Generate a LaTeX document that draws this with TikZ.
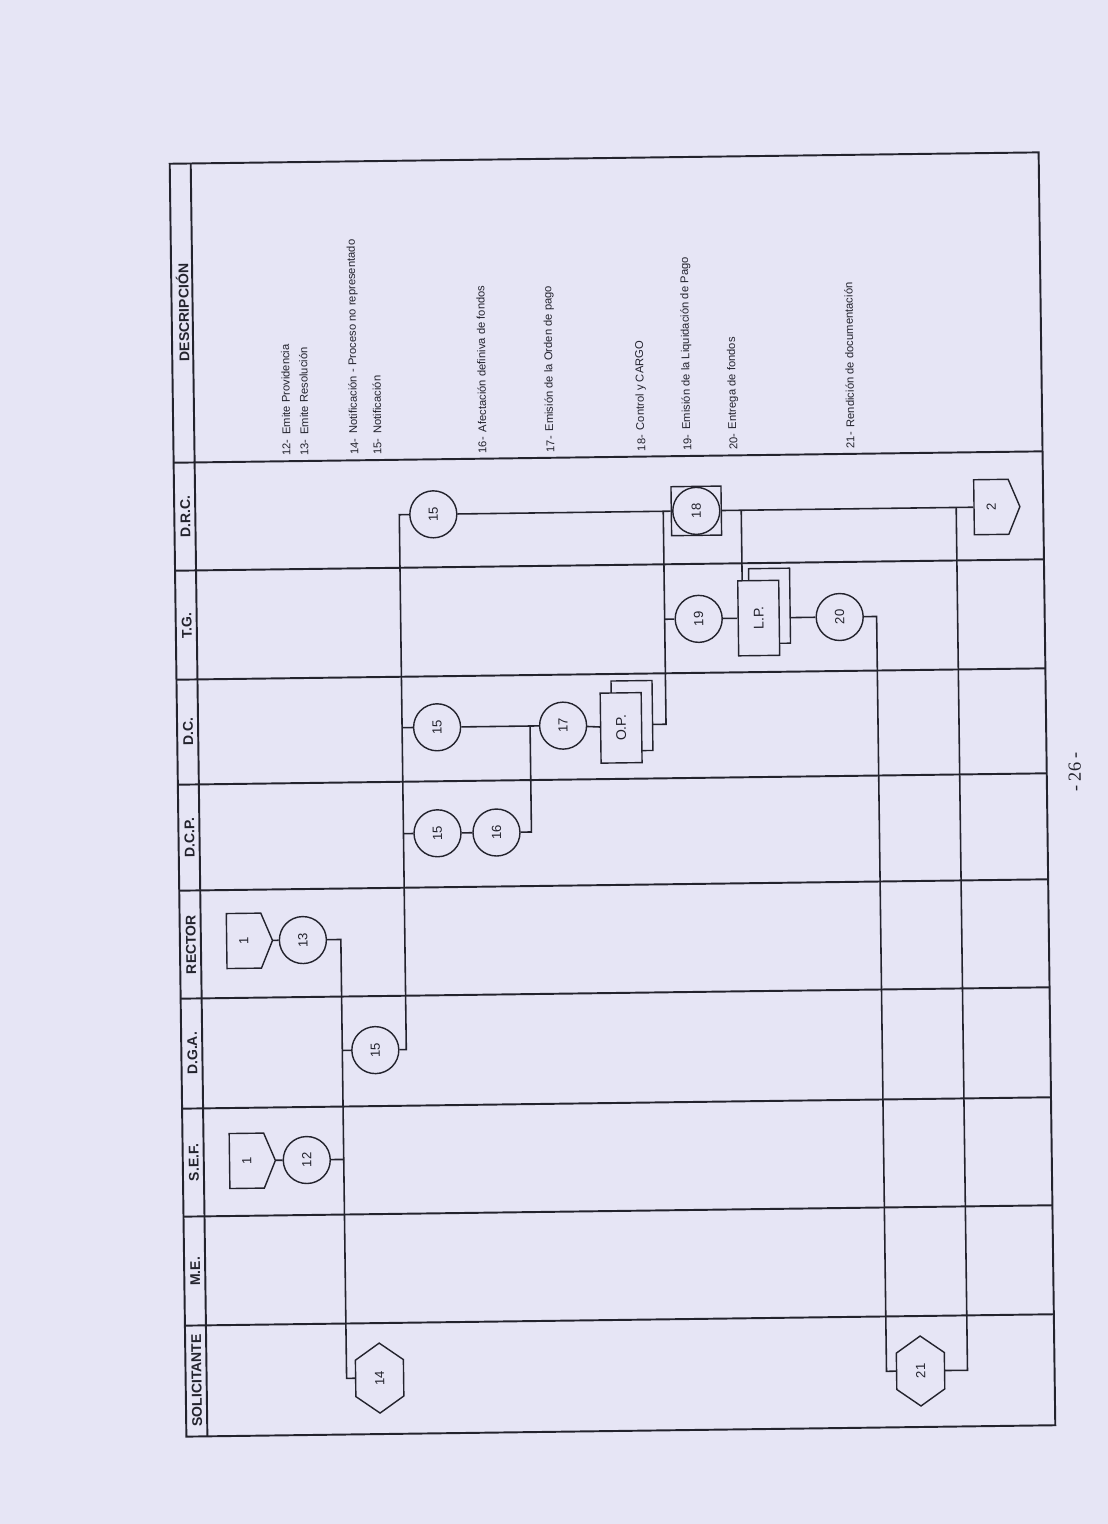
\documentclass[tikz,border=0pt]{standalone}
\usepackage{fontspec}
\setmainfont{Liberation Sans}
\newfontfamily\pagefont{Liberation Serif}
\usetikzlibrary{shapes.symbols}
\definecolor{paper}{RGB}{230,229,245}
\definecolor{ink}{RGB}{35,35,45}

\begin{document}
\begin{tikzpicture}[
        x=0.02cm, y=-0.02cm,
        color=ink,
        grid/.style={line width=1.1pt},
        flow/.style={line width=0.9pt},
        proc/.style={circle, draw, line width=0.8pt, minimum size=0.94cm, inner sep=0pt, rotate=90, font=\fontsize{7.5}{8}\selectfont},
        offpage/.style={signal, signal to=south, signal pointer angle=135, draw, line width=0.8pt, minimum width=1.1cm, minimum height=0.72cm, inner sep=0pt, rotate=90, font=\fontsize{7.5}{8}\selectfont},
        hexa/.style={signal, signal to=east and west, signal pointer angle=110, draw, line width=0.8pt, minimum width=1.4cm, minimum height=0.96cm, inner sep=0pt, rotate=90, font=\fontsize{7.5}{8}\selectfont},
        doc/.style={rectangle, draw, line width=0.8pt, fill=paper, minimum width=1.4cm, minimum height=0.82cm, inner sep=0pt, rotate=90, font=\fontsize{8}{9}\selectfont},
        ctrl/.style={rectangle, draw, line width=0.8pt, minimum width=1cm, minimum height=0.98cm, inner sep=0pt},
        lanehead/.style={rotate=90, inner sep=0pt, font=\bfseries\fontsize{8}{9}\selectfont},
        desc/.style={rotate=90, anchor=west, inner sep=0pt, font=\fontsize{6.4}{7}\selectfont}
    ]
        % Paper
        \fill[paper] (0,0) rectangle (1108,1524);

        % Page is scanned slightly tilted
        \begin{scope}[rotate around={0.75:(612,795)}, transform shape]

        % Frame and lanes
        \draw[grid] (178,158) rectangle (1047,1431);
        \draw[grid] (199,158) -- (199,1431);
        \foreach \y in {457,565,674,779,885,993,1103,1211,1320}
            \draw[grid] (178,\y) -- (1047,\y);

        % Lane titles
        \foreach \y/\t [count=\i] in {307/DESCRIPCIÓN, 511/D.R.C., 620/T.G., 726/D.C., 832/D.C.P., 939/RECTOR, 1048/D.G.A., 1157/S.E.F., 1266/M.E., 1375/SOLICITANTE}
            \node[lanehead] (head\i) at (189,\y) {\t};

        % Descriptions
        \foreach \x/\n/\t in {291/12/Emite Providencia, 309/13/Emite Resolución, 359/14/Notificación - Proceso no representado, 382/15/Notificación, 487/16/Afectación definiva de fondos, 555/17/Emisión de la Orden de pago, 646/18/Control y CARGO, 692/19/Emisión de la Liquidación de Pago, 738/20/Entrega de fondos, 855/21/Rendición de documentación} {
            \node[desc] (num\n) at (\x,452) {\n-};
            \node[desc] (txt\n) at (\x,431) {\t};
        }

        % S.E.F. and RECTOR
        \node[offpage] (sef1) at (242,1156) {1};
        \node[proc] (c12) at (302,1156) {12};
        \node[offpage] (rec1) at (242,936) {1};
        \node[proc] (c13) at (301,936) {13};

        % Solicitante
        \node[hexa] (h14) at (372,1375) {14};
        \node[hexa] (h21) at (913,1375) {21};

        % Notifications
        \node[proc] (c15a) at (372,1047) {15};
        \node[proc] (c15b) at (437,831) {15};
        \node[proc] (c15c) at (438,725) {15};
        \node[proc] (c15d) at (437,512) {15};
        \node[proc] (c16) at (496,831) {16};
        \node[proc] (c17) at (564,725) {17};

        % Documents
        \node[doc] (opb) at (633,716) {};
        \node[doc] (op) at (622,728) {O.P.};
        \node[doc, minimum width=1.5cm] (lpb) at (772,608) {};
        \node[doc, minimum width=1.5cm] (lp) at (761,620) {L.P.};

        % Control, payment, funds
        \node[ctrl] (sq18) at (700,512) {};
        \node[proc] (c18) at (700,512) {18};
        \node[proc] (c19) at (701,620) {19};
        \node[proc] (c20) at (842,620) {20};
        \node[offpage] (p2) at (995,512) {2};

        % Bends
        \coordinate (j1) at (339,936);
        \coordinate (j2) at (339,1375);
        \coordinate (j3) at (339,1156);
        \coordinate (j4) at (339,1047);
        \coordinate (k1) at (403,1047);
        \coordinate (k2) at (403,512);
        \coordinate (k3) at (403,831);
        \coordinate (k4) at (403,725);
        \coordinate (m1) at (531,831);
        \coordinate (m2) at (531,725);
        \coordinate (n2) at (667,725);
        \coordinate (n3) at (667,512);
        \coordinate (n4) at (667,620);
        \coordinate (q1) at (745,512);
        \coordinate (r1) at (879,620);
        \coordinate (r2) at (879,1375);
        \coordinate (s1) at (960,1375);
        \coordinate (s2) at (960,512);

        % Connectors
        \draw[flow] (sef1) -- (c12);
        \draw[flow] (rec1) -- (c13);
        \draw[flow] (c13) -- (j1) -- (j2) -- (h14);
        \draw[flow] (c12) -- (j3);
        \draw[flow] (c15a) -- (j4);
        \draw[flow] (c15a) -- (k1) -- (k2) -- (c15d);
        \draw[flow] (k3) -- (c15b);
        \draw[flow] (k4) -- (c15c);
        \draw[flow] (c15b) -- (c16);
        \draw[flow] (c16) -- (m1) -- (m2);
        \draw[flow] (c15c) -- (c17);
        \draw[flow] (c17) -- (op);
        \draw[flow] (opb.south |- n2) -- (n2) -- (n3);
        \draw[flow] (c15d) -- (sq18);
        \draw[flow] (n4) -- (c19);
        \draw[flow] (c19) -- (lp);
        \draw[flow] (sq18) -- (p2);
        \draw[flow] (q1) -- (q1 |- lp.east);
        \draw[flow] (lpb.south |- c20) -- (c20);
        \draw[flow] (c20) -- (r1) -- (r2) -- (h21);
        \draw[flow] (h21) -- (s1) -- (s2);

        % Page number
        \node[rotate=90, font=\pagefont\fontsize{10.5}{12}\selectfont] (pg) at (1075,778) {- 26 -};

        \end{scope}
    \end{tikzpicture}
\end{document}
